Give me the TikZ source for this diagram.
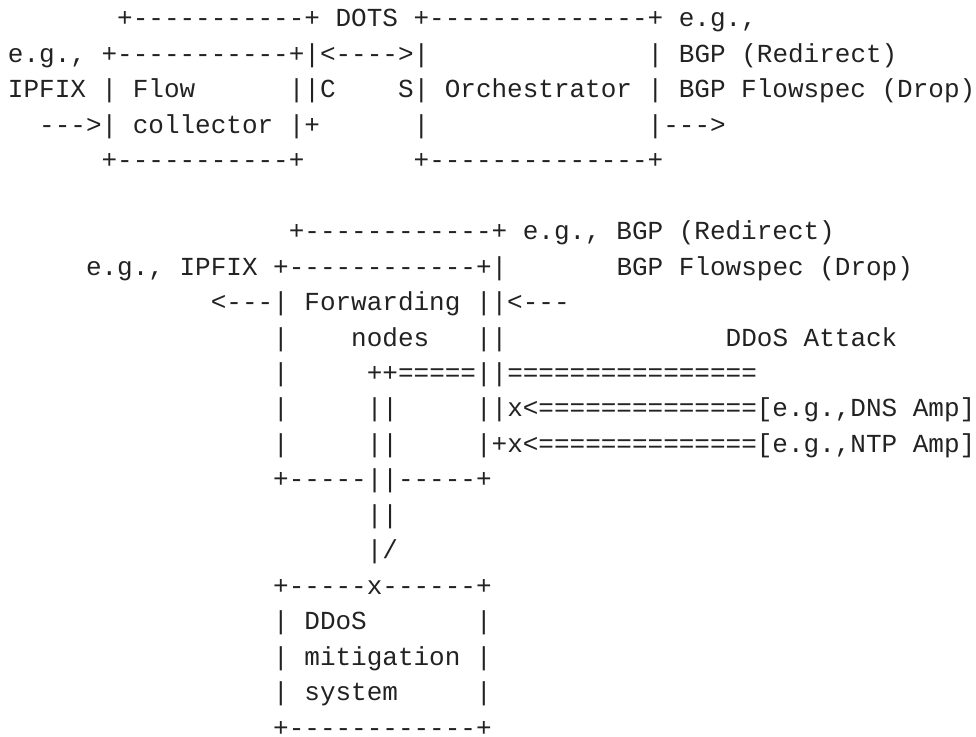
\documentclass[tikz,border=0pt]{standalone}
\usepackage{fontspec}
\setmonofont{Liberation Mono}
\definecolor{ink}{RGB}{34,34,34}
\tikzset{
  asciiline/.style={anchor=base west, inner sep=0pt, outer sep=0pt, text=ink,
    font=\ttfamily\fontsize{26}{35.45}\selectfont}
}
\newcommand{\rowy}[1]{-(27+(#1-1)*35.45)}
\begin{document}
\begin{tikzpicture}[x=1pt,y=1pt]
\useasboundingbox (0,0) rectangle (976,-736);
\node[asciiline] (l1)  at (8,{\rowy{1}})  {~~~~~~~+-----------+~DOTS~+--------------+~e.g.,};
\node[asciiline] (l2)  at (8,{\rowy{2}})  {e.g.,~+-----------+|<---->|~~~~~~~~~~~~~~|~BGP~(Redirect)};
\node[asciiline] (l3)  at (8,{\rowy{3}})  {IPFIX~|~Flow~~~~~~||C~~~~S|~Orchestrator~|~BGP~Flowspec~(Drop)};
\node[asciiline] (l4)  at (8,{\rowy{4}})  {~~--->|~collector~|+~~~~~~|~~~~~~~~~~~~~~|--->};
\node[asciiline] (l5)  at (8,{\rowy{5}})  {~~~~~~+-----------+~~~~~~~+--------------+};
\node[asciiline] (l7)  at (8,{\rowy{7}})  {~~~~~~~~~~~~~~~~~~+------------+~e.g.,~BGP~(Redirect)};
\node[asciiline] (l8)  at (8,{\rowy{8}})  {~~~~~e.g.,~IPFIX~+------------+|~~~~~~~BGP~Flowspec~(Drop)};
\node[asciiline] (l9)  at (8,{\rowy{9}})  {~~~~~~~~~~~~~<---|~Forwarding~||<---};
\node[asciiline] (l10) at (8,{\rowy{10}}) {~~~~~~~~~~~~~~~~~|~~~~nodes~~~||~~~~~~~~~~~~~~DDoS~Attack};
\node[asciiline] (l11) at (8,{\rowy{11}}) {~~~~~~~~~~~~~~~~~|~~~~~++=====||================};
\node[asciiline] (l12) at (8,{\rowy{12}}) {~~~~~~~~~~~~~~~~~|~~~~~||~~~~~||x<==============[e.g.,DNS~Amp]};
\node[asciiline] (l13) at (8,{\rowy{13}}) {~~~~~~~~~~~~~~~~~|~~~~~||~~~~~|+x<==============[e.g.,NTP~Amp]};
\node[asciiline] (l14) at (8,{\rowy{14}}) {~~~~~~~~~~~~~~~~~+-----||-----+};
\node[asciiline] (l15) at (8,{\rowy{15}}) {~~~~~~~~~~~~~~~~~~~~~~~||};
\node[asciiline] (l16) at (8,{\rowy{16}}) {~~~~~~~~~~~~~~~~~~~~~~~|/};
\node[asciiline] (l17) at (8,{\rowy{17}}) {~~~~~~~~~~~~~~~~~+-----x------+};
\node[asciiline] (l18) at (8,{\rowy{18}}) {~~~~~~~~~~~~~~~~~|~DDoS~~~~~~~|};
\node[asciiline] (l19) at (8,{\rowy{19}}) {~~~~~~~~~~~~~~~~~|~mitigation~|};
\node[asciiline] (l20) at (8,{\rowy{20}}) {~~~~~~~~~~~~~~~~~|~system~~~~~|};
\node[asciiline] (l21) at (8,{\rowy{21}}) {~~~~~~~~~~~~~~~~~+------------+};
\end{tikzpicture}
\end{document}
